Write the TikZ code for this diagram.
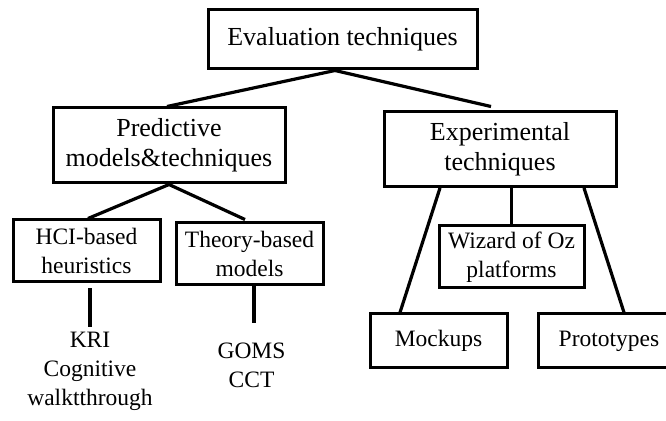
\documentclass[tikz,border=0pt]{standalone}
\usepackage{fontspec}
\setmainfont{Liberation Serif}
\begin{document}
\begin{tikzpicture}[x=1pt,y=1pt,
  big/.style={font=\fontsize{26}{30}\selectfont},
  small/.style={font=\fontsize{23.5}{29}\selectfont},
  box/.style={draw=black,line width=3pt,inner sep=0pt,align=center},
  plain/.style={inner sep=0pt,align=center},
  link/.style={line width=3.2pt}]
\useasboundingbox (0,0) rectangle (666,420);
\clip (0,0) rectangle (666,420);
% level 0
\node[box,big,minimum width=269pt,minimum height=59pt] (top) at (342.5,380.5) {Evaluation techniques};
% level 1
\node[box,big,minimum width=232pt,minimum height=75pt] (pred) at (169,274.5) {Predictive\\models\&techniques};
\node[box,big,minimum width=232pt,minimum height=75pt] (exp) at (500,271) {Experimental\\techniques};
% level 2
\node[box,small,minimum width=147pt,minimum height=62pt] (hci) at (86.5,169) {HCI-based\\heuristics};
\node[box,small,minimum width=147pt,minimum height=62pt] (theory) at (249.5,166) {Theory-based\\models};
\node[box,small,minimum width=145pt,minimum height=62pt] (wizard) at (511.5,163) {Wizard of Oz\\platforms};
\node[box,small,minimum width=137pt,minimum height=54pt] (mock) at (438.5,79) {Mockups};
\node[box,small,minimum width=142pt,minimum height=54pt] (proto) at (609,79) {Prototypes};
% leaf texts
\node[plain,small,anchor=north] (kri) at (90,88) {KRI\\Cognitive\\walktthrough};
\node[plain,small,anchor=north] (goms) at (251.5,77) {GOMS\\CCT};
% connectors
\draw[link] ([xshift=-7.5pt]top.south) -- ([xshift=-2pt]pred.north);
\draw[link] ([xshift=-7.5pt]top.south) -- ([xshift=-9pt,yshift=3.5pt]exp.north);
\draw[link] (pred.south) -- ([xshift=1.5pt]hci.north);
\draw[link] (pred.south) -- ([xshift=-4.5pt,yshift=2pt]theory.north);
\draw[link] ([xshift=3.5pt,yshift=-5pt]hci.south) -- ([xshift=0pt,yshift=5pt]kri.north);
\draw[link] ([xshift=4.5pt]theory.south) -- ([xshift=2.5pt,yshift=20pt]goms.north);
\draw[link] (wizard.north |- exp.south) -- (wizard.north);
\draw[link] ([xshift=-60pt]exp.south) -- ([xshift=-38.5pt]mock.north);
\draw[link] ([xshift=84pt]exp.south) -- ([xshift=15pt]proto.north);
\end{tikzpicture}
\end{document}
